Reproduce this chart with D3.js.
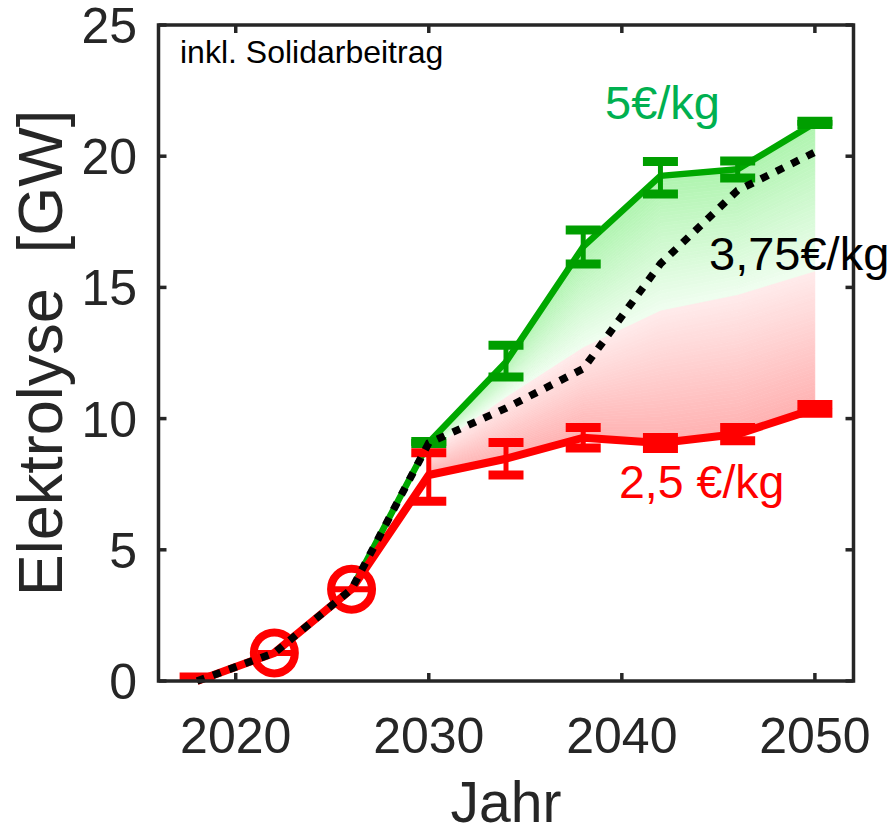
<!DOCTYPE html>
<html>
<head>
<meta charset="utf-8">
<script src="https://cdn.jsdelivr.net/npm/d3@7"></script>
<style>
  body { margin: 0; background: #fff; }
  svg { display: block; font-family: "Liberation Sans", Arial, Helvetica, sans-serif; }
</style>
</head>
<body>
<div id="chart"></div>
<script>
// shared history before the price scenarios split
var commonYears = [2018, 2022, 2026];
var commonVals = [0, 1.07, 3.5];
var circleYears = [2022, 2026];

// scenario years
var scenYears = [2030, 2034, 2038, 2042, 2046, 2050];

// 5 €/kg
var green = [9.09, 12.16, 16.55, 19.25, 19.5, 21.27];
var greenLo = [9.05, 11.59, 15.89, 18.56, 19.17, 21.21];
var greenHi = [9.13, 12.8, 17.19, 19.8, 19.82, 21.33];

// 2,5 €/kg
var red = [7.85, 8.47, 9.27, 9.07, 9.41, 10.37];
var redLo = [6.85, 7.85, 8.88, 8.86, 9.16, 10.2];
var redHi = [8.7, 9.09, 9.66, 9.28, 9.66, 10.54];

// 3,75 €/kg (dotted)
var mid = [9.07, 10.4, 11.9, 15.9, 18.7, 20.15];

// where the green shading turns into the red shading
var split = [8.75, 10.8, 12.7, 14.1, 14.7, 15.6];

var xTicks = [2020, 2030, 2040, 2050];
var yTicks = [0, 5, 10, 15, 20, 25];

var width = 893, height = 833;
var pLeft = 158.5, pRight = 853.5, pTop = 25, pBottom = 681;
var axisColor = "#262626";

var svg = d3.select("#chart").append("svg")
    .attr("width", width)
    .attr("height", height);

var x = d3.scaleLinear().domain([2016, 2052]).range([pLeft, pRight]);
var y = d3.scaleLinear().domain([0, 25]).range([pBottom, pTop]);

// build series
function withHistory(vals) {
    return commonYears.map(function (yr, i) { return [yr, commonVals[i]]; })
        .concat(scenYears.map(function (yr, i) { return [yr, vals[i]]; }));
}
var greenPts = withHistory(green);
var redPts = withHistory(red);
var midPts = withHistory(mid);

// shading: bands between green line -> split line -> red line
var nBands = 40;
var gTop = d3.interpolateRgb("#aef4ae", "#f0fef0");
var rBot = d3.interpolateRgb("#ffebeb", "#ffb0b0");
var shade = svg.append("g");

function band(upper, lower, t0, t1, col) {
    var area = d3.area()
        .x(function (d, i) { return x(scenYears[i]); })
        .y0(function (d, i) { return y(upper[i] + (lower[i] - upper[i]) * t0); })
        .y1(function (d, i) { return y(upper[i] + (lower[i] - upper[i]) * t1); });
    shade.append("path")
        .attr("d", area(scenYears))
        .attr("fill", col)
        .attr("stroke", col)
        .attr("stroke-width", 0.6);
}
for (var b = 0; b < nBands; b++) {
    band(green, split, b / nBands, (b + 1) / nBands, gTop((b + 0.5) / nBands));
}
for (var b = 0; b < nBands; b++) {
    band(split, red, b / nBands, (b + 1) / nBands, rBot((b + 0.5) / nBands));
}

var line = d3.line()
    .x(function (d) { return x(d[0]); })
    .y(function (d) { return y(d[1]); });

var capW = 35;

function errorBars(lo, hi, col, stemW) {
    var g = svg.append("g");
    scenYears.forEach(function (yr, i) {
        var cx = x(yr);
        g.append("line")
            .attr("x1", cx).attr("x2", cx)
            .attr("y1", y(lo[i])).attr("y2", y(hi[i]))
            .attr("stroke", col).attr("stroke-width", stemW);
        [lo[i], hi[i]].forEach(function (v) {
            g.append("line")
                .attr("x1", cx - capW / 2).attr("x2", cx + capW / 2)
                .attr("y1", y(v)).attr("y2", y(v))
                .attr("stroke", col).attr("stroke-width", 9);
        });
    });
}

// green scenario
svg.append("path")
    .attr("d", line(greenPts))
    .attr("fill", "none")
    .attr("stroke", "#00a800")
    .attr("stroke-width", 6.5)
    .attr("stroke-linejoin", "round");
errorBars(greenLo, greenHi, "#009e00", 5);

// red scenario
svg.append("path")
    .attr("d", line(redPts))
    .attr("fill", "none")
    .attr("stroke", "#ff0000")
    .attr("stroke-width", 8)
    .attr("stroke-linejoin", "round");
errorBars(redLo, redHi, "#ff0000", 5);

// start marker and history circles
svg.append("line")
    .attr("x1", x(commonYears[0]) - capW / 2).attr("x2", x(commonYears[0]) + capW / 2)
    .attr("y1", y(commonVals[0]) - 4).attr("y2", y(commonVals[0]) - 4)
    .attr("stroke", "#ff0000").attr("stroke-width", 9);

circleYears.forEach(function (yr) {
    var v = commonVals[commonYears.indexOf(yr)];
    svg.append("line")
        .attr("x1", x(yr) - 17).attr("x2", x(yr) + 17)
        .attr("y1", y(v)).attr("y2", y(v))
        .attr("stroke", "#ff0000").attr("stroke-width", 6);
    svg.append("circle")
        .attr("cx", x(yr)).attr("cy", y(v))
        .attr("r", 20.5)
        .attr("fill", "none")
        .attr("stroke", "#ff0000")
        .attr("stroke-width", 8);
});

// 3,75 €/kg dotted
svg.append("path")
    .attr("d", line(midPts))
    .attr("fill", "none")
    .attr("stroke", "#000")
    .attr("stroke-width", 7.5)
    .attr("stroke-dasharray", "8,9");

// axes frame
var frame = svg.append("g").attr("fill", "none").attr("stroke", axisColor).attr("stroke-width", 3.5);
frame.append("rect")
    .attr("x", pLeft).attr("y", pTop)
    .attr("width", pRight - pLeft).attr("height", pBottom - pTop);

xTicks.forEach(function (t) {
    frame.append("line").attr("x1", x(t)).attr("x2", x(t)).attr("y1", pBottom).attr("y2", pBottom - 8);
    frame.append("line").attr("x1", x(t)).attr("x2", x(t)).attr("y1", pTop).attr("y2", pTop + 8);
});
yTicks.forEach(function (t) {
    frame.append("line").attr("x1", pLeft).attr("x2", pLeft + 8).attr("y1", y(t)).attr("y2", y(t));
    frame.append("line").attr("x1", pRight).attr("x2", pRight - 8).attr("y1", y(t)).attr("y2", y(t));
});

// tick labels
svg.selectAll(".xt").data(xTicks).enter().append("text")
    .attr("x", function (d) { return x(d); })
    .attr("y", 753)
    .attr("text-anchor", "middle")
    .attr("font-size", 50)
    .attr("fill", axisColor)
    .text(function (d) { return d; });

svg.selectAll(".yt").data(yTicks).enter().append("text")
    .attr("x", 137)
    .attr("y", function (d) { return y(d) + 18; })
    .attr("text-anchor", "end")
    .attr("font-size", 50)
    .attr("fill", axisColor)
    .text(function (d) { return d; });

// axis titles
svg.append("text")
    .attr("x", (pLeft + pRight) / 2)
    .attr("y", 822)
    .attr("text-anchor", "middle")
    .attr("font-size", 57)
    .attr("fill", axisColor)
    .text("Jahr");

svg.append("text")
    .attr("transform", "translate(62," + ((pTop + pBottom) / 2) + ") rotate(-90)")
    .attr("text-anchor", "middle")
    .attr("font-size", 63)
    .attr("fill", axisColor)
    .style("white-space", "pre")
    .text("Elektrolyse  [GW]");

// annotations
svg.append("text")
    .attr("x", 180).attr("y", 63)
    .attr("font-size", 32)
    .attr("fill", "#000")
    .text("inkl. Solidarbeitrag");

svg.append("text")
    .attr("x", 605).attr("y", 119)
    .attr("font-size", 47)
    .attr("fill", "#00b050")
    .text("5€/kg");

svg.append("text")
    .attr("x", 709).attr("y", 270)
    .attr("font-size", 47)
    .attr("fill", "#000")
    .text("3,75€/kg");

svg.append("text")
    .attr("x", 619).attr("y", 498)
    .attr("font-size", 46.5)
    .attr("fill", "#ff0000")
    .text("2,5 €/kg");
</script>
</body>
</html>
